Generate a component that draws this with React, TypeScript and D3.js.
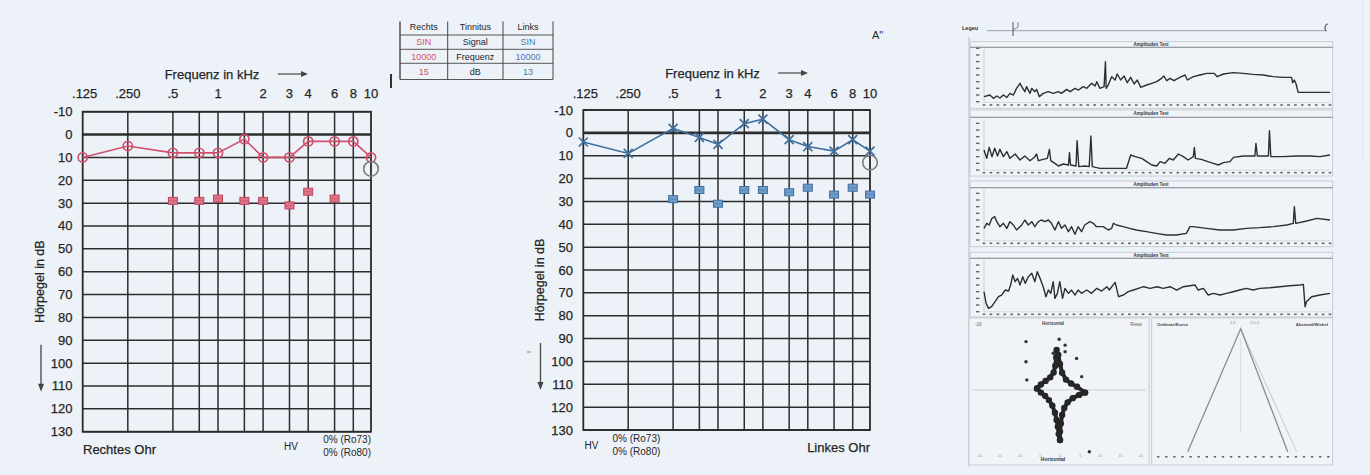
import React from 'react';
import * as d3 from 'd3';

// ---------- Audiogram data ----------
const FREQS = [125, 250, 500, 750, 1000, 1500, 2000, 3000, 4000, 6000, 8000, 10000];
const FREQ_TICK_VALUES = [125, 250, 500, 1000, 2000, 3000, 4000, 6000, 8000, 10000];
const FREQ_TICK_LABELS = ['.125', '.250', '.5', '1', '2', '3', '4', '6', '8', '10'];
const DB_TICKS = [-10, 0, 10, 20, 30, 40, 50, 60, 70, 80, 90, 100, 110, 120, 130];

const RIGHT_AIR = [10, 5, 8, 8, 8, 2, 10, 10, 3, 3, 3, 10];
const RIGHT_MASK_FREQS = [500, 750, 1000, 1500, 2000, 3000, 4000, 6000];
const RIGHT_MASK = [29, 29, 28, 29, 29, 31, 25, 28];
const LEFT_AIR = [4, 9, -2, 2, 5, -4, -6, 3, 6, 8, 3, 8];
const LEFT_MASK_FREQS = [500, 750, 1000, 1500, 2000, 3000, 4000, 6000, 8000, 10000];
const LEFT_MASK = [29, 25, 31, 25, 25, 26, 24, 27, 24, 27];
const TINNITUS_FREQ = 10000;
const TINNITUS_RIGHT_DB = 15;
const TINNITUS_LEFT_DB = 13;

const TABLE_HEAD = ['Rechts', 'Tinnitus', 'Links'];
const TABLE_RIGHT = ['SIN', '10000', '15'];
const TABLE_MID = ['Signal', 'Frequenz', 'dB'];
const TABLE_LEFT = ['SIN', '10000', '13'];

// ---------- Right panel traces: [time %, level] ----------
const TRACE_1 = [
  [0, 15], [1.7, 20], [2.7, 10], [3.7, 17], [4.6, 11], [5.6, 20], [6.6, 13], [7.5, 25], [8.5, 20], [9.4, 40],
  [10.4, 55], [10.9, 45], [11.8, 30], [12.3, 45], [13.3, 25], [13.8, 40], [14.7, 30], [15.2, 37], [16, 15],
  [17.1, 25], [18.6, 30], [20, 25], [21.5, 30], [22.4, 25], [23.9, 37], [24.9, 30], [26.3, 40], [27.3, 35],
  [28.7, 45], [29.7, 40], [31.1, 55], [32.1, 47], [32.6, 60], [33.5, 40], [34.7, 45], [35.1, 120], [35.3, 40],
  [35.9, 50], [36.9, 75], [37.9, 65], [38.5, 83], [39.5, 65], [40.5, 77], [41.4, 57], [42.4, 73], [43.4, 53],
  [44.3, 65], [45.3, 43], [47, 50], [48.5, 55], [49.9, 60], [51.3, 70], [52, 77], [52.8, 63], [53.8, 70],
  [54.9, 63], [56.6, 73], [58.1, 80], [58.8, 65], [60.5, 75], [62.4, 80], [64.4, 85], [66.5, 85], [67.4, 75],
  [69.2, 83], [72.1, 87], [74.9, 85], [77.8, 82], [80.7, 80], [83.6, 75], [86.5, 73], [88.9, 73], [89.2, 57],
  [89.7, 65], [90.2, 53], [90.8, 28], [94.2, 28], [100, 28],
];
const TRACE_2 = [
  [0, 60], [0.8, 35], [1.5, 68], [2.3, 40], [3.1, 65], [3.9, 42], [4.6, 62], [5.6, 40], [6.6, 55], [7.5, 35],
  [9, 48], [10.4, 30], [11.8, 42], [13.3, 28], [14.7, 40], [15.2, 48], [15.7, 28], [17.1, 32], [18.3, 35],
  [18.9, 62], [19.3, 28], [20.5, 20], [21.5, 12], [22.9, 18], [24.4, 15], [24.7, 52], [25, 15], [26.6, 12],
  [26.9, 88], [27.4, 10], [29.2, 12], [30.4, 10], [30.9, 102], [31.3, 10], [33.5, 5], [36.4, 5], [39.3, 5],
  [41.2, 5], [42.4, 45], [43.7, 40], [45.6, 35], [47, 25], [48.5, 15], [49.9, 12], [50.9, 25], [52.3, 20],
  [53.6, 35], [54.7, 30], [56.2, 48], [57.6, 40], [59, 30], [60.5, 40], [60.8, 68], [61.1, 35], [62.8, 32],
  [64.7, 25], [66.3, 20], [67.7, 15], [69.2, 22], [71.1, 25], [72.1, 38], [75, 42], [78.3, 42], [78.6, 80],
  [79, 42], [82.2, 42], [82.5, 118], [82.9, 40], [86.5, 40], [90.4, 42], [94.2, 42], [97.1, 40], [100, 45],
];
const TRACE_3 = [
  [0, 35], [0.8, 50], [1.5, 45], [2.3, 65], [3.1, 70], [3.7, 55], [4.6, 40], [5.6, 50], [6.6, 35], [7.5, 55],
  [8.5, 45], [9.4, 30], [10.9, 45], [11.8, 60], [12.8, 45], [13.8, 55], [14.7, 40], [15.7, 55], [16.6, 60],
  [17.6, 55], [18.6, 60], [19.5, 50], [20.5, 30], [21.5, 55], [22.4, 35], [23.4, 45], [24.4, 25], [25.3, 40],
  [26.3, 17], [27.2, 40], [28.2, 25], [29.1, 45], [30.6, 55], [31.6, 50], [32.5, 40], [34.5, 40], [35.9, 30],
  [36.9, 35], [37.4, 50], [38.3, 45], [40.2, 40], [42.1, 35], [44, 30], [46.9, 25], [49.8, 20], [52.7, 15],
  [55.6, 15], [58.5, 20], [59.5, 40], [60.4, 40], [64.3, 35], [68.1, 30], [72, 30], [75.9, 35], [79.7, 37],
  [83.6, 40], [87.5, 45], [89.4, 50], [89.7, 100], [90.1, 50], [93.3, 57], [96.2, 65], [100, 60],
];
const TRACE_4 = [
  [0, 60], [0.6, 25], [1.3, 10], [2.2, 15], [3.2, 30], [4.2, 45], [5.1, 50], [6.1, 65], [7.1, 62], [7.7, 80],
  [8.3, 110], [9, 90], [9.7, 100], [10.4, 80], [11.2, 105], [11.9, 85], [12.8, 105], [13.8, 115], [14.7, 90],
  [15.4, 120], [16.2, 100], [17.1, 75], [17.9, 45], [18.6, 65], [19.3, 55], [20, 90], [20.5, 40], [21.2, 55],
  [21.9, 90], [22.7, 40], [23.4, 70], [24.4, 55], [25.3, 65], [26.3, 50], [27.2, 65], [28.2, 55], [29.7, 65],
  [31.1, 55], [32.6, 70], [34, 62], [35.5, 75], [36.2, 65], [37.9, 88], [38.9, 45], [40.3, 50], [41.7, 60],
  [43.2, 65], [44.6, 70], [46.1, 75], [48, 70], [50, 75], [51.8, 70], [53.8, 75], [55.7, 65], [57.6, 75],
  [59.5, 78], [61, 80], [61.9, 65], [63.4, 70], [64.8, 50], [66.3, 55], [68.2, 50], [70.1, 55], [72, 60],
  [73.9, 65], [75.8, 70], [77.8, 65], [79.7, 70], [82.6, 72], [85.5, 75], [88.4, 78], [91.3, 80], [92.3, 82],
  [92.8, 15], [93.2, 30], [94.7, 45], [97.1, 50], [100, 55],
];

// ---------- Bottom-left scatter (four-pointed shape) ----------
const SCATTER_UL = [[-0.8, 12.3], [-0.9, 10], [-1.1, 7.5], [-1.5, 5.4], [-2.3, 3.9], [-3.4, 2.8], [-4.5, 1.7], [-5.4, 0.5]];
const SCATTER_UR = [[-0.4, 10.8], [0, 8], [0.5, 5.3], [1.4, 3.2], [2.6, 2], [4, 1], [5.9, -0.8]];
const SCATTER_LR = [[5.9, -0.8], [4.5, -1.5], [3, -2.5], [1.8, -3.8], [1, -5.5], [0.5, -7.7], [0.2, -10.3], [0, -12.8], [0, -15.4]];
const SCATTER_LL = [[-5.4, 0.5], [-4.5, -0.8], [-3.5, -1.8], [-2.6, -3.1], [-1.8, -4.8], [-1.2, -7], [-0.8, -9.2], [-0.5, -11.3], [-0.3, -13.5], [0, -15.4]];
const SCATTER_OUT = [[-8, 14.9], [-8, 8.7], [-0.2, 15.6], [1.2, 13.8], [3.9, 9.7], [5.1, 4.1], [6.9, -19], [-7.8, 3.1], [1.2, 11.8], [-1.6, 11.3]];

// ---------- Bottom-right cone ----------
const CONE = [[-53, 0], [0, 123], [47, 0]];
const CONE_OUTER = [[0, 123], [56, 0]];

const FONT = '"Liberation Sans", Arial, sans-serif';
const INK = '#262626';
const RED = '#d2506b';
const BLUE = '#3f6f9f';

type Cfg = { xr: number[]; yr: number[]; tickRight: number; titleCx: number; titleY: number; arrowX0: number; yLabelX: number };

function Audiogram({ cfg, air, maskF, mask, tinDb, color, marker, maskFill, maskStroke }: any) {
  const c: Cfg = cfg;
  const x = d3.scaleLog().domain([125, 8000, 10000]).range(c.xr);
  const y = d3.scaleLinear().domain([-10, 130]).range(c.yr);
  const xL = x(125), xR = x(10000), yT = y(-10), yB = y(130);
  const line = d3.line<number>().x((_, i) => x(FREQS[i])).y((d) => y(d));
  const innerFreqs = FREQS.slice(1, -1);
  const yMid = (y(40) + y(80)) / 2 + 10;
  const ts = { stroke: INK, strokeWidth: 0.25 };
  return (
    <g fontFamily={FONT} fill={INK}>
      <text x={c.titleCx} y={c.titleY + 4.5} fontSize={13} textAnchor="middle" {...ts}>Frequenz in kHz</text>
      <line x1={c.arrowX0} x2={c.arrowX0 + 26} y1={c.titleY} y2={c.titleY} stroke="#444" strokeWidth={1.2} />
      <path d={`M${c.arrowX0 + 30},${c.titleY} l-7,-3 l0,6 z`} fill="#444" />
      {FREQ_TICK_VALUES.map((f, i) => (
        <text key={f} x={x(f) + (i === 0 ? 2 : 0)} y={97.5} fontSize={13} textAnchor="middle" {...ts}>{FREQ_TICK_LABELS[i]}</text>
      ))}
      {DB_TICKS.map((d) => (
        <text key={d} x={c.tickRight} y={y(d) + 4.5} fontSize={13} textAnchor="end" {...ts}>{d}</text>
      ))}
      {DB_TICKS.map((d) => (
        <line key={'h' + d} x1={xL} x2={xR} y1={y(d)} y2={y(d)} stroke="#2d2d2d" strokeWidth={d === 0 ? 2.6 : 1.5} />
      ))}
      {innerFreqs.map((f) => (
        <line key={'v' + f} x1={x(f)} x2={x(f)} y1={yT} y2={yB} stroke="#2d2d2d" strokeWidth={1.5} />
      ))}
      <rect x={xL} y={yT} width={xR - xL} height={yB - yT} fill="none" stroke="#2a2a2a" strokeWidth={1.8} />
      <text transform={`translate(${c.yLabelX},${yMid}) rotate(-90)`} fontSize={12.5} textAnchor="middle" dominantBaseline="middle" {...ts}>Hörpegel in dB</text>
      <line x1={c.yLabelX} x2={c.yLabelX} y1={yMid + 63} y2={yMid + 104} stroke="#444" strokeWidth={1.3} />
      <path d={`M${c.yLabelX},${yMid + 110} l-3,-8 l6,0 z`} fill="#444" />
      {maskF.map((f: number, i: number) => (
        <g key={'m' + f}>
          <rect x={x(f) - 4.5} y={y(mask[i]) - 3.5} width={9} height={7} fill={maskFill} stroke={maskStroke} strokeWidth={1} />
          <line x1={x(f) - 4.5} x2={x(f) + 4.5} y1={y(mask[i])} y2={y(mask[i])} stroke={maskStroke} strokeWidth={0.8} opacity={0.6} />
        </g>
      ))}
      <path d={line(air) || ''} fill="none" stroke={color} strokeWidth={1.6} />
      {air.map((d: number, i: number) =>
        marker === 'o' ? (
          <circle key={'a' + i} cx={x(FREQS[i])} cy={y(d)} r={4.6} fill="none" stroke={color} strokeWidth={1.7} />
        ) : (
          <path key={'a' + i} d={`M${x(FREQS[i]) - 4.5},${y(d) - 4.5}L${x(FREQS[i]) + 4.5},${y(d) + 4.5}M${x(FREQS[i]) - 4.5},${y(d) + 4.5}L${x(FREQS[i]) + 4.5},${y(d) - 4.5}`} stroke={color} strokeWidth={1.7} fill="none" />
        )
      )}
      <circle cx={x(TINNITUS_FREQ)} cy={y(tinDb)} r={7.3} fill="none" stroke="#7a7a7a" strokeWidth={1.6} />
    </g>
  );
}

function Table() {
  const colX = [400, 447.7, 503, 553];
  const rowY = [21, 35, 49.3, 63.3, 79.5];
  const cols = [
    [TABLE_HEAD[0], ...TABLE_RIGHT],
    [TABLE_HEAD[1], ...TABLE_MID],
    [TABLE_HEAD[2], ...TABLE_LEFT],
  ];
  const colColors = [RED, INK, '#4a78b0'];
  return (
    <g fontFamily={FONT} fontSize={9}>
      <defs>
        <clipPath id="tclip"><rect x={395} y={21.5} width={165} height={70} /></clipPath>
      </defs>
      <g clipPath="url(#tclip)">
        {cols.map((col, ci) =>
          col.map((t, ri) => (
            <text key={ci + '-' + ri} x={(colX[ci] + colX[ci + 1]) / 2} y={ri === 0 ? 29.5 : (rowY[ri] + rowY[ri + 1]) / 2 + 3.2}
              textAnchor="middle" fill={ri === 0 ? INK : colColors[ci]}>{t}</text>
          ))
        )}
        {rowY.slice(1).map((r) => (
          <line key={'r' + r} x1={colX[0]} x2={colX[3]} y1={r} y2={r} stroke="#555" strokeWidth={1} />
        ))}
        {colX.map((cx, i) => (
          <line key={'c' + cx} x1={cx} x2={cx} y1={15} y2={rowY[4]} stroke="#444" strokeWidth={i === 0 ? 1.4 : 1} />
        ))}
      </g>
      <line x1={391} x2={391} y1={74} y2={88} stroke="#333" strokeWidth={2} />
    </g>
  );
}

function RightPanel() {
  const xs = d3.scaleLinear().domain([0, 100]).range([984, 1330]);
  const subs = [
    { data: TRACE_1, top: 41.7, dark: 47.3, vmax: 160, y0: 101.7, y1: 48.3, tick: 105, bottom: 108.3 },
    { data: TRACE_2, top: 110, dark: 117.3, vmax: 150, y0: 170, y1: 120, tick: 172.7, bottom: 176 },
    { data: TRACE_3, top: 181, dark: 187.7, vmax: 150, y0: 240, y1: 190, tick: 243.3, bottom: 246.7 },
    { data: TRACE_4, top: 252.3, dark: 258.3, vmax: 150, y0: 311.7, y1: 261.7, tick: 314.3, bottom: 317 },
  ];
  const xTicks = xs.ticks(40);
  const sx = d3.scaleLinear().domain([-20, 20]).range([975, 1145]);
  const sy = d3.scaleLinear().domain([-20, 20]).range([455, 325]);
  const cx = d3.scaleLinear().domain([-90, 90]).range([1150.7, 1330.7]);
  const cy = d3.scaleLinear().domain([0, 130]).range([451.7, 321.7]);
  const pl = d3.line<number[]>().x((d) => sx(d[0])).y((d) => sy(d[1]));
  const cl = d3.line<number[]>().x((d) => cx(d[0])).y((d) => cy(d[1]));
  const edges = [SCATTER_UL, SCATTER_UR, SCATTER_LR, SCATTER_LL];
  const allPts = [...SCATTER_UL, ...SCATTER_UR, ...SCATTER_LR, ...SCATTER_LL];
  return (
    <g fontFamily={FONT}>
      <text x={962} y={30} fontSize={5.5} fontWeight="bold" fill="#333">Legeu</text>
      <line x1={987} x2={1327} y1={30.7} y2={30.7} stroke="#9aa0a8" strokeWidth={1} />
      <line x1={1013} x2={1013} y1={22} y2={36} stroke="#555" strokeWidth={1} />
      <path d="M1013,30 l5,-3 l0,-5" fill="none" stroke="#666" strokeWidth={0.8} />
      <path d="M1328,24 a3,4 0 0 0 -2,7" fill="none" stroke="#555" strokeWidth={1.2} />
      <line x1={969} x2={969} y1={37} y2={467} stroke="#b7bcc4" strokeWidth={1} />
      <line x1={1363} x2={1363} y1={0} y2={160} stroke="#dfe4ea" strokeWidth={1} />
      {subs.map((s, i) => {
        const ys = d3.scaleLinear().domain([0, s.vmax]).range([s.y0, s.y1]);
        const ln = d3.line<number[]>().x((d) => xs(d[0])).y((d) => ys(d[1]));
        const yTicks = ys.ticks(8);
        return (
          <g key={i}>
            <rect x={970} y={s.top} width={362.7} height={s.bottom - s.top} fill="#f0f4f9" stroke="#bfc4cb" strokeWidth={0.8} />
            <line x1={970} x2={1332.7} y1={s.dark} y2={s.dark} stroke="#7c8087" strokeWidth={1.1} />
            <text x={1151} y={s.top + (s.dark - s.top) / 2 + 1.8} fontSize={4.5} fontWeight="bold" textAnchor="middle" fill="#333">Amplituden Test</text>
            <line x1={984} x2={984} y1={s.dark + 2} y2={s.tick - 2} stroke="#b0b5bc" strokeWidth={0.6} />
            <line x1={984} x2={1330} y1={s.tick - 2.5} y2={s.tick - 2.5} stroke="#c5cad1" strokeWidth={0.6} />
            {yTicks.map((t) => (
              <rect key={'yt' + t} x={976} y={ys(t) - 0.7} width={3.5} height={1.4} fill="#666" />
            ))}
            {xTicks.map((t) => (
              <rect key={'xt' + t} x={xs(t) - 1.3} y={s.tick - 0.8} width={2.6} height={1.6} fill="#666" />
            ))}
            <path d={ln(s.data as number[][]) || ''} fill="none" stroke="#2e2e2e" strokeWidth={1.4} strokeLinejoin="round" />
          </g>
        );
      })}
      <rect x={969} y={318} width={180} height={147} fill="#f0f4f9" stroke="#bfc4cb" strokeWidth={0.8} />
      <rect x={1151.7} y={318} width={181} height={147} fill="#f0f4f9" stroke="#bfc4cb" strokeWidth={0.8} />
      <line x1={972} x2={1146} y1={sy(0)} y2={sy(0)} stroke="#c3c7cd" strokeWidth={0.8} />
      <text x={975} y={325.5} fontSize={4.5} fill="#555">-10</text>
      <text x={1053} y={324.5} fontSize={4.5} fontWeight="bold" textAnchor="middle" fill="#444">Horizontal</text>
      <text x={1142} y={325.5} fontSize={4.5} textAnchor="end" fill="#555">Reset</text>
      {d3.range(0, 9).map((k) => (
        <text key={'bl' + k} x={sx(-19 + k * 4.75)} y={456.5} fontSize={3.8} textAnchor="middle" fill="#999">{(k - 4) * 5}</text>
      ))}
      <text x={1053} y={461} fontSize={5} fontWeight="bold" textAnchor="middle" fill="#333">Horizontal</text>
      {edges.map((e, i) => (
        <path key={'e' + i} d={pl(e as number[][]) || ''} fill="none" stroke="#262626" strokeWidth={4} strokeLinecap="round" strokeLinejoin="round" />
      ))}
      {allPts.map((p, i) => (
        <circle key={'p' + i} cx={sx(p[0])} cy={sy(p[1])} r={3.2} fill="#262626" />
      ))}
      {SCATTER_OUT.map((p, i) => (
        <circle key={'o' + i} cx={sx(p[0])} cy={sy(p[1])} r={1.7} fill="#333" />
      ))}
      <text x={1157} y={325.5} fontSize={4.3} fontWeight="bold" fill="#444">Ordinate/Kurve</text>
      <text x={1230} y={323.5} fontSize={4} fill="#777">1.0</text>
      <text x={1250} y={323.5} fontSize={4} fill="#6a9a70">2.0.0</text>
      <text x={1328} y={325.5} fontSize={4.3} fontWeight="bold" textAnchor="end" fill="#444">Abstand/Winkel</text>
      <line x1={cx(0)} x2={cx(0)} y1={cy(113)} y2={cy(20)} stroke="#d0d4da" strokeWidth={0.8} />
      <path d={cl(CONE_OUTER as number[][]) || ''} fill="none" stroke="#c4c8ce" strokeWidth={1} />
      <path d={cl(CONE as number[][]) || ''} fill="none" stroke="#8a8e94" strokeWidth={1.3} />
      {d3.range(0, 22).map((k) => (
        <rect key={'bt' + k} x={1157 + k * 8.1} y={456} width={2.4} height={1.6} fill="#666" />
      ))}
    </g>
  );
}

export default function App() {
  const leftCfg: Cfg = { xr: [82.7, 353.3, 371], yr: [111.7, 431.7], tickRight: 72.5, titleCx: 212, titleY: 74, arrowX0: 278, yLabelX: 41 };
  const rightCfg: Cfg = { xr: [583.3, 852.7, 870], yr: [110, 430], tickRight: 573, titleCx: 712.5, titleY: 73, arrowX0: 778, yLabelX: 540.5 };
  return (
    <svg width={1370} height={475} style={{ position: 'absolute', left: 0, top: 0 }}>
      <rect x={0} y={0} width={1370} height={475} fill="#edf2f8" />
      <Audiogram cfg={leftCfg} air={RIGHT_AIR} maskF={RIGHT_MASK_FREQS} mask={RIGHT_MASK} tinDb={TINNITUS_RIGHT_DB}
        color={RED} marker="o" maskFill="#dc7486" maskStroke="#c24560" />
      <Audiogram cfg={rightCfg} air={LEFT_AIR} maskF={LEFT_MASK_FREQS} mask={LEFT_MASK} tinDb={TINNITUS_LEFT_DB}
        color={BLUE} marker="x" maskFill="#6f9cc9" maskStroke="#3f6fa0" />
      <g fontFamily={FONT} fill={INK}>
        <text x={83} y={453.5} fontSize={13} stroke={INK} strokeWidth={0.25}>Rechtes Ohr</text>
        <text x={291} y={449.5} fontSize={10} textAnchor="middle">HV</text>
        <text x={371} y={442.5} fontSize={10} textAnchor="end">0% (Ro73)</text>
        <text x={371} y={455.5} fontSize={10} textAnchor="end">0% (Ro80)</text>
        <text x={591.5} y={448.5} fontSize={10} textAnchor="middle">HV</text>
        <text x={612.5} y={441.5} fontSize={10}>0% (Ro73)</text>
        <text x={612.5} y={454.5} fontSize={10}>0% (Ro80)</text>
        <text x={870} y={451.5} fontSize={13} textAnchor="end" stroke={INK} strokeWidth={0.25}>Linkes Ohr</text>
        <text x={872} y={39} fontSize={11}>A"</text>
        <line x1={527} x2={531} y1={352} y2={352} stroke="#888" strokeWidth={1} />
      </g>
      <Table />
      <RightPanel />
    </svg>
  );
}
